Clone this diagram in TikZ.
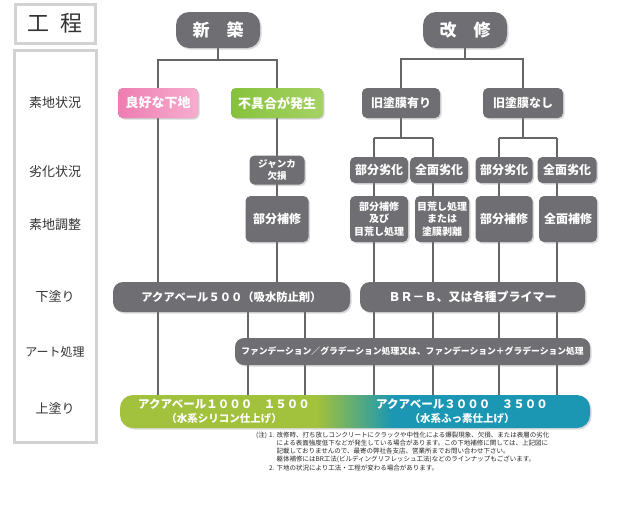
\documentclass[tikz,border=0pt]{standalone}
\usepackage{fontspec}
\setmainfont{Noto Sans CJK JP}
\usetikzlibrary{shadows,backgrounds}
\definecolor{boxgray}{HTML}{6F6F73}
\definecolor{linegray}{HTML}{666666}
\definecolor{pinkA}{HTML}{EE7DB0}
\definecolor{pinkB}{HTML}{F6ADCF}
\definecolor{leafA}{HTML}{86C23C}
\definecolor{leafB}{HTML}{A6D264}
\definecolor{barGreen}{HTML}{A2C13C}
\definecolor{barTeal}{HTML}{1B97B3}
\definecolor{framegray}{HTML}{D2D2D2}
\pgfdeclarehorizontalshading{topcoat}{100bp}{color(0bp)=(barGreen); color(46bp)=(barGreen); color(54bp)=(barTeal); color(100bp)=(barTeal)}
\newcommand{\fsz}[2]{\fontsize{#1}{#2}\selectfont}
\newcommand{\stage}[3]{\node[stagelab] (#1) at (55,#2) {#3};}
\tikzset{
  proc/.style={fill=boxgray, text=white, rounded corners=5pt, inner sep=1pt, align=center,
    font=\bfseries\fsz{12}{14}, drop shadow={opacity=.3, shadow xshift=1.5pt, shadow yshift=-1.5pt}},
  pill/.style={rounded corners=13pt, minimum width=84pt, minimum height=36pt, font=\bfseries\fsz{17}{17}},
  minibox/.style={font=\bfseries\fsz{10}{12.5}},
  wide/.style={rounded corners=10pt, minimum height=30pt},
  wire/.style={draw=linegray, line width=1.4pt},
  framebox/.style={draw=framegray, line width=3pt, fill=white},
  stagelab/.style={font=\fsz{13}{14}, text=black!80},
  bartext/.style={text=white, align=center, font=\bfseries\fsz{11.5}{14}}
}
\begin{document}
\begin{tikzpicture}[x=1pt,y=-1pt]
\useasboundingbox (0,0) rectangle (620,504);
% process column
\node[framebox, minimum width=80pt, minimum height=39pt, font=\fsz{22}{22}, text=black!80] (koutei) at (55,23.5) {工\hspace{.5em}程};
\node[framebox, minimum width=82pt, minimum height=392pt] (col) at (55,246) {};
\stage{s1}{103}{素地状況}
\stage{s2}{172}{劣化状況}
\stage{s3}{225}{素地調整}
\stage{s4}{297}{下塗り}
\node[stagelab, font=\fsz{12}{13}] (s5) at (55,352) {アート処理};
\stage{s6}{408}{上塗り}
% new build / repair
\node[proc, pill] (shin) at (218,30) {新　築};
\node[proc, pill] (kai) at (465,30) {改　修};
\coordinate (j1) at (218,60);
\coordinate (j2) at (465,59);
\node[proc, left color=pinkA, right color=pinkB, minimum width=80pt, minimum height=30pt, font=\bfseries\fsz{13}{14}] (ryo) at (158,103) {良好な下地};
\node[proc, left color=leafA, right color=leafB, minimum width=92pt, minimum height=30pt, font=\bfseries\fsz{13}{14}] (fug) at (277,103) {不具合が発生};
\node[proc, minimum width=78pt, minimum height=30pt] (kyu1) at (401,103) {旧塗膜有り};
\node[proc, minimum width=80pt, minimum height=30pt] (kyu2) at (523,103) {旧塗膜なし};
% deterioration
\node[proc, font=\bfseries\fsz{9.5}{12}, minimum width=55pt, minimum height=29pt] (jan) at (277,170) {ジャンカ\\欠損};
\node[proc, minimum width=58pt, minimum height=26pt] (bu1) at (379,170) {部分劣化};
\node[proc, minimum width=58pt, minimum height=26pt] (zen1) at (439,170) {全面劣化};
\node[proc, minimum width=57pt, minimum height=26pt] (bu2) at (504,170) {部分劣化};
\node[proc, minimum width=59pt, minimum height=26pt] (zen2) at (567,170) {全面劣化};
% substrate adjustment
\node[proc, minimum width=63pt, minimum height=46pt] (hos0) at (277,219) {部分補修};
\node[proc, minibox, minimum width=58pt, minimum height=46pt] (hos1) at (379,219) {部分補修\\及び\\目荒し処理};
\node[proc, minibox, minimum width=54pt, minimum height=46pt] (mea) at (442,219) {目荒し処理\\または\\塗膜剥離};
\node[proc, minimum width=57pt, minimum height=46pt] (hos2) at (504,219) {部分補修};
\node[proc, minimum width=58pt, minimum height=46pt] (zenh) at (568,219) {全面補修};
% undercoat, art, topcoat
\node[proc, wide, minimum width=237pt, font=\bfseries\fsz{11.3}{13}] (aq500) at (231.5,297) {アクアベール５００（吸水防止剤）};
\node[proc, wide, minimum width=225pt] (brb) at (472.5,297) {ＢＲ－Ｂ、又は各種プライマー};
\node[proc, rounded corners=9pt, minimum width=355pt, minimum height=27pt, font=\bfseries\fsz{8.8}{10}] (art) at (412.5,351.5) {ファンデーション／グラデーション処理又は、ファンデーション＋グラデーション処理};
\node[shading=topcoat, rounded corners=13pt, minimum width=470pt, minimum height=33pt, drop shadow={opacity=.3, shadow xshift=1.5pt, shadow yshift=-1.5pt}] (bar) at (355,411.5) {};
\node[bartext] (silicone) at (224,411.5) {アクアベール１０００　１５００\\{\fsz{10.5}{12}（水系シリコン仕上げ）}};
\node[bartext] (fluoro) at (462,411.5) {アクアベール３０００　３５００\\{\fsz{10.5}{12}（水系ふっ素仕上げ）}};
% columns
\coordinate (g1) at (248,0);
\coordinate (g2) at (305,0);
\coordinate (k3) at (374,138);
\coordinate (k4) at (433,138);
\coordinate (k5) at (499,138);
\coordinate (k6) at (557,138);
\begin{scope}[on background layer]
\draw[wire] (shin) -- (j1);
\draw[wire] (ryo.north) |- (j1) -| (fug.north);
\draw[wire] (kai) -- (j2);
\draw[wire] (kyu1.north) |- (j2) -| (kyu2.north);
\draw[wire] (ryo.south) -- (ryo.south |- bar.north);
\draw[wire] (fug.south) -- (aq500.north -| fug.south);
\draw[wire] (g1 |- aq500.south) -- (g1 |- bar.north);
\draw[wire] (g2 |- aq500.south) -- (g2 |- bar.north);
\draw[wire] (kyu1.south) -- (kyu1.south |- k3);
\draw[wire] (kyu2.south) -- (kyu2.south |- k5);
\draw[wire] (k3) -- (k4) (k5) -- (k6);
\draw[wire] (k3) -- (k3 |- bar.north) (k4) -- (k4 |- bar.north);
\draw[wire] (k5) -- (k5 |- bar.north) (k6) -- (k6 |- bar.north);
\end{scope}
% notes
\node[anchor=north west, inner sep=0pt, font=\fsz{6.5}{8.3}, text=black!85] (note) at (256,431) {\begin{tabular}{@{}l@{\hspace{2pt}}l@{\hspace{2pt}}l@{}}
(注) & 1. & 改修時、打ち放しコンクリートにクラックや中性化による爆裂現象、欠損、または表層の劣化\\
 & & による表面強度低下などが発生している場合があります。この下地補修に関しては、上記図に\\
 & & 記載しておりませんので、最寄の弊社各支店、営業所までお問い合わせ下さい。\\
 & & 躯体補修にはBR工法(ビルディングリフレッシュ工法)などのラインナップもございます。\\
 & 2. & 下地の状況により工法・工程が変わる場合があります。
\end{tabular}};
\end{tikzpicture}
\end{document}
